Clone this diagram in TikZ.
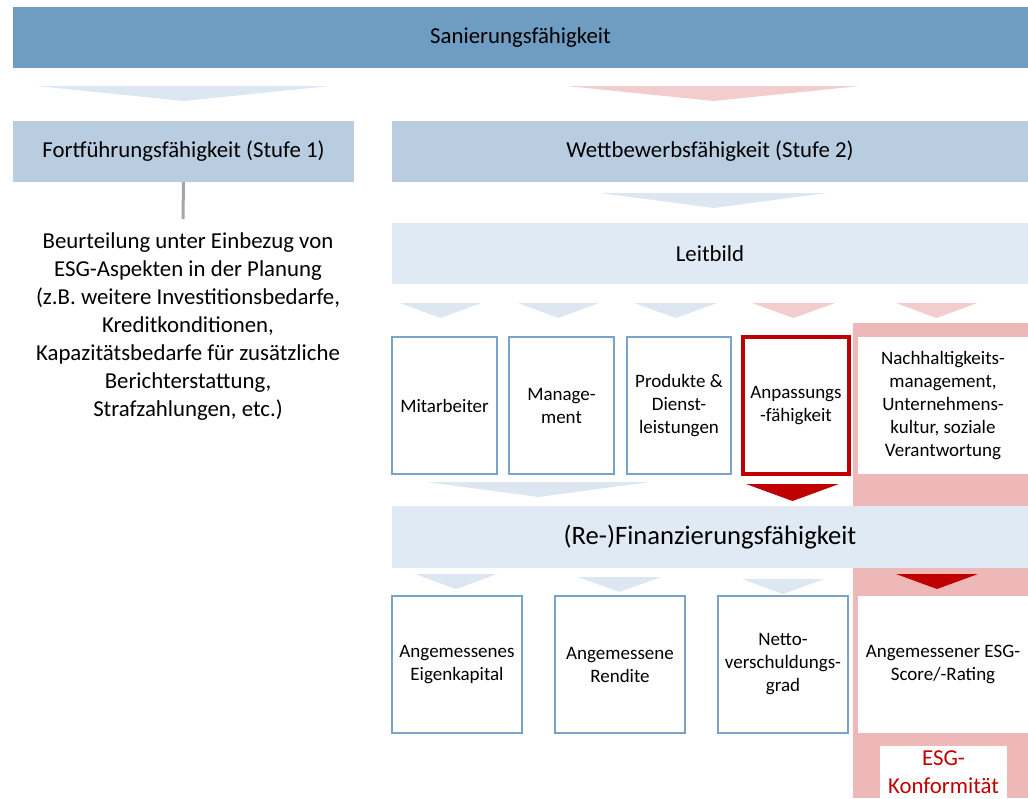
\documentclass[tikz,border=0pt]{standalone}
\usepackage{fontspec}
\setmainfont{Carlito}

\definecolor{banner}{HTML}{6F9CC1}
\definecolor{stage}{HTML}{B9CDE0}
\definecolor{pale}{HTML}{DFEAF4}
\definecolor{chevblue}{HTML}{DCE7F2}
\definecolor{chevpink}{HTML}{F3CDCD}
\definecolor{esgpink}{HTML}{EFB8B8}
\definecolor{darkred}{HTML}{C00000}
\definecolor{boxline}{HTML}{7BA3C8}
\definecolor{stem}{HTML}{A6A6A6}

% flat downward chevron: left x, right x, top y, tip y, fill colour
\newcommand\chev[5]{\fill[#5] (#1,#3) -- (#2,#3) -- ({(#1+#2)/2},#4) -- cycle;}

\begin{document}
\begin{tikzpicture}[x=1pt,y=-1pt,
  every node/.style={inner sep=0pt, outer sep=0pt, anchor=north west, align=center},
  titlefont/.style={font=\fontsize{22.8}{27}\selectfont},
  bandtop/.style={fill=banner, titlefont},
  bandstage/.style={fill=stage, titlefont},
  bandpale/.style={fill=pale},
  itembox/.style={draw=boxline, line width=2pt, fill=white,
    font=\fontsize{19}{23}\selectfont},
  keybox/.style={draw=darkred, line width=3.5pt, fill=white,
    font=\fontsize{19}{23}\selectfont},
  esgbox/.style={fill=white, font=\fontsize{19}{23}\selectfont},
]
\useasboundingbox (0,0) rectangle (1028,798);
\fill[white] (0,0) rectangle (1028,798);

% headline band
\node[bandtop, minimum width=1015pt, minimum height=61pt] (san) at (13,7) {Sanierungsfähigkeit};

% the two stages
\chev{37}{330}{86}{101}{chevblue}
\chev{567}{860}{86}{101}{chevpink}
\node[bandstage, minimum width=341pt, minimum height=61pt] (st1) at (13,121) {Fortführungsfähigkeit (Stufe 1)};
\node[bandstage, minimum width=636pt, minimum height=61pt] (st2) at (392,121) {Wettbewerbsfähigkeit (Stufe 2)};

% stage 1 explanation
\coordinate (stemend) at (183,219);
\draw[stem, line width=3pt] (st1.south) -- (stemend);
\node[anchor=center, font=\fontsize{22.8}{28}\selectfont] (beurt) at (188,327)
  {Beurteilung unter Einbezug von\\ESG-Aspekten in der Planung\\(z.B. weitere Investitionsbedarfe,\\Kreditkonditionen,\\Kapazitätsbedarfe für zusätzliche\\Berichterstattung,\\Strafzahlungen, etc.)};

% guiding principle
\chev{600}{827}{193}{208}{chevblue}
\node[bandpale, titlefont, minimum width=636pt, minimum height=61pt] (leit) at (392,223) {Leitbild};

% ESG column background
\fill[esgpink] (853,323) rectangle (1028,798);

% first row of factors
\chev{400}{481}{303}{318}{chevblue}
\chev{518}{599}{303}{318}{chevblue}
\chev{634}{717}{303}{318}{chevblue}
\chev{752}{835}{303}{318}{chevpink}
\chev{896}{977}{303}{318}{chevpink}
\node[itembox, minimum width=105pt, minimum height=137pt] (mit) at (392,337) {Mitarbeiter};
\node[itembox, minimum width=105pt, minimum height=137pt] (man) at (509,337) {Manage-\\ment};
\node[itembox, minimum width=104pt, minimum height=137pt] (prod) at (627,337) {Produkte \&\\Dienst-\\leistungen};
\node[keybox, minimum width=106pt, minimum height=137pt] (anp) at (743,337) {Anpassungs\\-fähigkeit};
\node[esgbox, minimum width=170pt, minimum height=137pt] (nach) at (858,337)
  {Nachhaltigkeits-\\management,\\Unternehmens-\\kultur, soziale\\Verantwortung};

% financing capability
\chev{427}{650}{482}{497}{chevblue}
\chev{746}{839}{484}{501}{darkred}
\node[bandpale, font=\fontsize{26.6}{31}\selectfont, minimum width=636pt, minimum height=62pt] (fin) at (392,506) {(Re-)Finanzierungsfähigkeit};

% second row of factors
\chev{415}{497}{574}{589}{chevblue}
\chev{578}{661}{577}{592}{chevblue}
\chev{742}{824}{579}{594}{chevblue}
\chev{896}{978}{574}{589}{darkred}
\node[itembox, minimum width=130pt, minimum height=137pt] (eig) at (392,596) {Angemessenes\\Eigenkapital};
\node[itembox, minimum width=130pt, minimum height=137pt] (ren) at (555,596) {Angemessene\\Rendite};
\node[itembox, minimum width=130pt, minimum height=137pt] (net) at (718,596) {Netto-\\verschuldungs-\\grad};
\node[esgbox, minimum width=170pt, minimum height=137pt] (score) at (858,596) {Angemessener ESG-\\Score/-Rating};

% ESG conformity label
\node[fill=white, text=darkred, font=\fontsize{22.8}{28}\selectfont, minimum width=127pt, minimum height=52pt] (konf) at (880,746) {ESG-\\Konformität};
\end{tikzpicture}
\end{document}
